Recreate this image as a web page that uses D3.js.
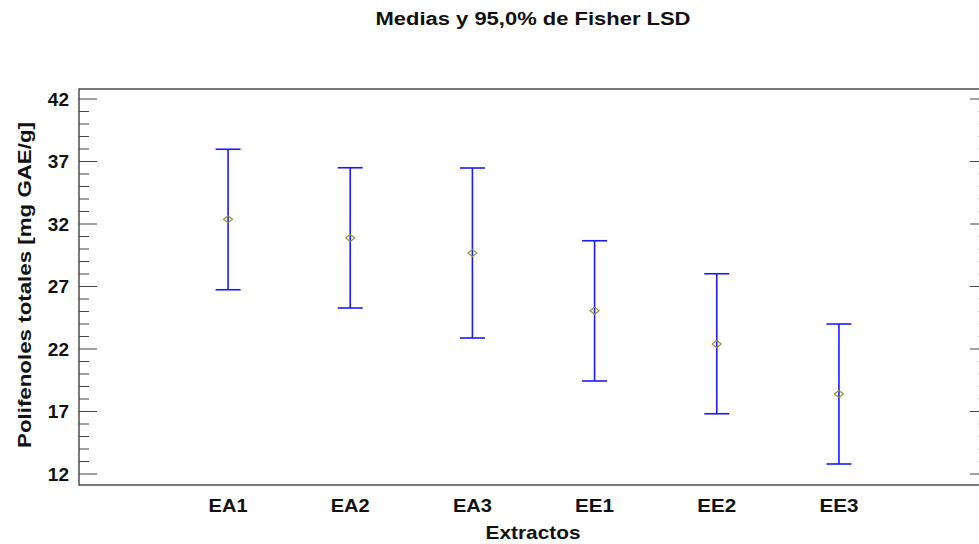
<!DOCTYPE html>
<html lang="es">
<head>
<meta charset="utf-8">
<title>Medias y 95,0% de Fisher LSD</title>
<script src="https://cdn.jsdelivr.net/npm/d3@7"></script>
<style>
body { margin: 0; background: #fff; }
svg text { font-family: "Liberation Sans", Arial, sans-serif; font-weight: bold; fill: #111; }
</style>
</head>
<body>
<div id="chart"></div>
<script>
// datos
var extractos = ['EA1', 'EA2', 'EA3', 'EE1', 'EE2', 'EE3'];
var medias    = [32.38, 30.88, 29.68, 25.06, 22.40, 18.40];
var inferior  = [26.74, 25.28, 22.88, 19.44, 16.82, 12.80];
var superior  = [37.98, 36.50, 36.48, 30.66, 28.02, 24.00];
var yTicks    = [12, 17, 22, 27, 32, 37, 42];

var W = 979, H = 544;
var mLeft = 79, mRight = 988, mTop = 89, mBottom = 485;

var svg = d3.select('#chart').append('svg')
  .attr('width', W).attr('height', H);

var y = d3.scaleLinear().domain([11.12, 42.8]).range([mBottom, mTop]);
var x = d3.scalePoint().domain(extractos).range([mLeft, mRight]).padding(1.22);

// marco
svg.append('rect')
  .attr('x', mLeft).attr('y', mTop)
  .attr('width', mRight - mLeft).attr('height', mBottom - mTop)
  .attr('fill', 'none').attr('stroke', '#333').attr('stroke-width', 1.3);

// ticks menores cada unidad
var minor = d3.range(12, 43, 1).filter(function(v) { return (v - 12) % 5 !== 0; });

var yl = svg.append('g').attr('transform', 'translate(' + mLeft + ',0)');
yl.selectAll('line.minor').data(minor).enter().append('line')
  .attr('x1', 0).attr('x2', 10)
  .attr('y1', function(d) { return y(d); }).attr('y2', function(d) { return y(d); })
  .attr('stroke', '#444');
yl.selectAll('line.major').data(yTicks).enter().append('line')
  .attr('x1', 0).attr('x2', 18)
  .attr('y1', function(d) { return y(d); }).attr('y2', function(d) { return y(d); })
  .attr('stroke', '#444');
yl.selectAll('text').data(yTicks).enter().append('text')
  .attr('x', -10).attr('y', function(d) { return y(d); })
  .attr('dy', '0.36em').attr('text-anchor', 'end')
  .style('font-size', '19px')
  .text(function(d) { return d; });

var yr = svg.append('g').attr('transform', 'translate(' + mRight + ',0)');
yr.selectAll('line.minor').data(minor).enter().append('line')
  .attr('x1', 0).attr('x2', -10)
  .attr('y1', function(d) { return y(d); }).attr('y2', function(d) { return y(d); })
  .attr('stroke', '#aaa');
yr.selectAll('line.major').data(yTicks).enter().append('line')
  .attr('x1', 0).attr('x2', -18)
  .attr('y1', function(d) { return y(d); }).attr('y2', function(d) { return y(d); })
  .attr('stroke', '#444');

// etiquetas eje x
svg.append('g').selectAll('text').data(extractos).enter().append('text')
  .attr('x', function(d) { return x(d); }).attr('y', 512)
  .attr('text-anchor', 'middle')
  .style('font-size', '19px')
  .attr('textLength', 39).attr('lengthAdjust', 'spacingAndGlyphs')
  .text(function(d) { return d; });

// barras de error
var g = svg.append('g');
extractos.forEach(function(e, i) {
  var cx = x(e);
  g.append('line').attr('x1', cx).attr('x2', cx)
    .attr('y1', y(superior[i])).attr('y2', y(inferior[i]))
    .attr('stroke', '#1a1aff').attr('stroke-width', 1.6);
  [superior[i], inferior[i]].forEach(function(v) {
    g.append('line').attr('x1', cx - 12.5).attr('x2', cx + 12.5)
      .attr('y1', y(v)).attr('y2', y(v))
      .attr('stroke', '#1a1aff').attr('stroke-width', 1.6);
  });
  var my = y(medias[i]);
  g.append('path')
    .attr('d', 'M' + (cx - 4.5) + ',' + my + 'L' + cx + ',' + (my - 3.5) +
               'L' + (cx + 4.5) + ',' + my + 'L' + cx + ',' + (my + 3.5) + 'Z')
    .attr('fill', 'none').attr('stroke', '#8f8f30').attr('stroke-width', 1.1);
});

// titulos
svg.append('text').attr('x', 533).attr('y', 25)
  .attr('text-anchor', 'middle').style('font-size', '18px')
  .attr('textLength', 315).attr('lengthAdjust', 'spacingAndGlyphs')
  .text('Medias y 95,0% de Fisher LSD');

svg.append('text').attr('x', 533).attr('y', 539)
  .attr('text-anchor', 'middle').style('font-size', '19px')
  .attr('textLength', 95).attr('lengthAdjust', 'spacingAndGlyphs')
  .text('Extractos');

svg.append('text')
  .attr('transform', 'translate(31,285) rotate(-90)')
  .attr('text-anchor', 'middle').style('font-size', '19px')
  .attr('textLength', 326).attr('lengthAdjust', 'spacingAndGlyphs')
  .text('Polifenoles totales [mg GAE/g]');
</script>
</body>
</html>
